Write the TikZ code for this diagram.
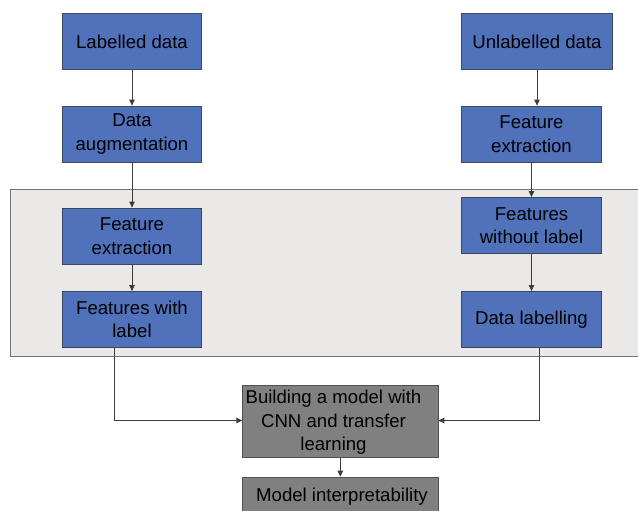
\documentclass[tikz,border=0pt]{standalone}
\usepackage{fontspec}
\setmainfont{Liberation Sans}
\usetikzlibrary{arrows.meta}
\definecolor{boxblue}{RGB}{80,114,187}
\definecolor{boxborder}{RGB}{60,72,95}
\definecolor{bgfill}{RGB}{235,233,231}
\definecolor{bgborder}{RGB}{115,115,115}
\definecolor{modelfill}{RGB}{128,128,128}
\definecolor{modelborder}{RGB}{80,80,80}
\definecolor{linecol}{RGB}{60,60,60}
\tikzset{
  bluebox/.style={draw=boxborder, line width=0.8pt, fill=boxblue, inner sep=0pt, align=center,
    minimum width=139.5pt, minimum height=56pt, text=black,
    font=\fontsize{18.6}{23.5}\selectfont},
  graybox/.style={draw=modelborder, line width=0.8pt, fill=modelfill, inner sep=0pt,
    minimum width=195.3pt, text=black, align=center},
  txt/.style={inner sep=0pt, align=center, text=black, font=\fontsize{18.6}{23.5}\selectfont},
  conn/.style={draw=linecol, line width=0.9pt, -{Triangle[length=6pt,width=5.5pt]}},
  plain/.style={draw=linecol, line width=0.9pt}
}
\begin{document}
\begin{tikzpicture}[x=1pt,y=-1pt]
\useasboundingbox (0,0) rectangle (638,511);
\clip (0,0) rectangle (638,511);
% background panel
\node[draw=bgborder, line width=0.9pt, fill=bgfill, inner sep=0pt, minimum width=640pt, minimum height=166.7pt, anchor=north west] (panel) at (10,189) {};
% left column
\node[bluebox] (lab) at (132,41.5) {Labelled data};
\node[bluebox] (aug) at (132,134) {Data\\augmentation};
\node[bluebox] (fextL) at (132,236) {Feature\\extraction};
\node[bluebox] (fwl) at (132,319.5) {Features with\\label};
% right column
\node[bluebox, minimum width=151pt] (unlab) at (537,41.5) {Unlabelled data};
\node[bluebox, minimum width=140.5pt] (fextR) at (531.5,134) {Feature\\extraction};
\node[bluebox, minimum width=140.5pt] (fwol) at (531.5,225.5) {Features\\without label};
\node[bluebox, minimum width=140.5pt] (dlab) at (531.5,319.5) {Data labelling};
% bottom
\node[graybox, minimum height=72pt] (build) at (340.3,421.7) {};
\node[txt] (buildtxt) at (333.5,422.5) {Building a model with\\CNN and transfer\\learning};
\node[graybox, minimum height=44pt, anchor=north] (interp) at (340.3,476.7) {};
\node[txt] (interptxt) at (342,497) {Model interpretability};
% coordinates
\coordinate (lcorner) at (114,420.5);
\coordinate (rcorner) at (539,420.5);
% connectors
\draw[conn] (lab) -- (aug);
\draw[conn] (aug) -- (fextL);
\draw[conn] (fextL) -- (fwl);
\draw[conn] (unlab.south) -- (unlab.south |- fextR.north);
\draw[conn] (fextR) -- (fwol);
\draw[conn] (fwol) -- (dlab);
\draw[plain] (fwl.south -| lcorner) -- (lcorner);
\draw[conn] (lcorner) -- (lcorner -| build.west);
\draw[plain] (dlab.south -| rcorner) -- (rcorner);
\draw[conn] (rcorner) -- (rcorner -| build.east);
\draw[conn] (build) -- (interp);
\end{tikzpicture}
\end{document}
